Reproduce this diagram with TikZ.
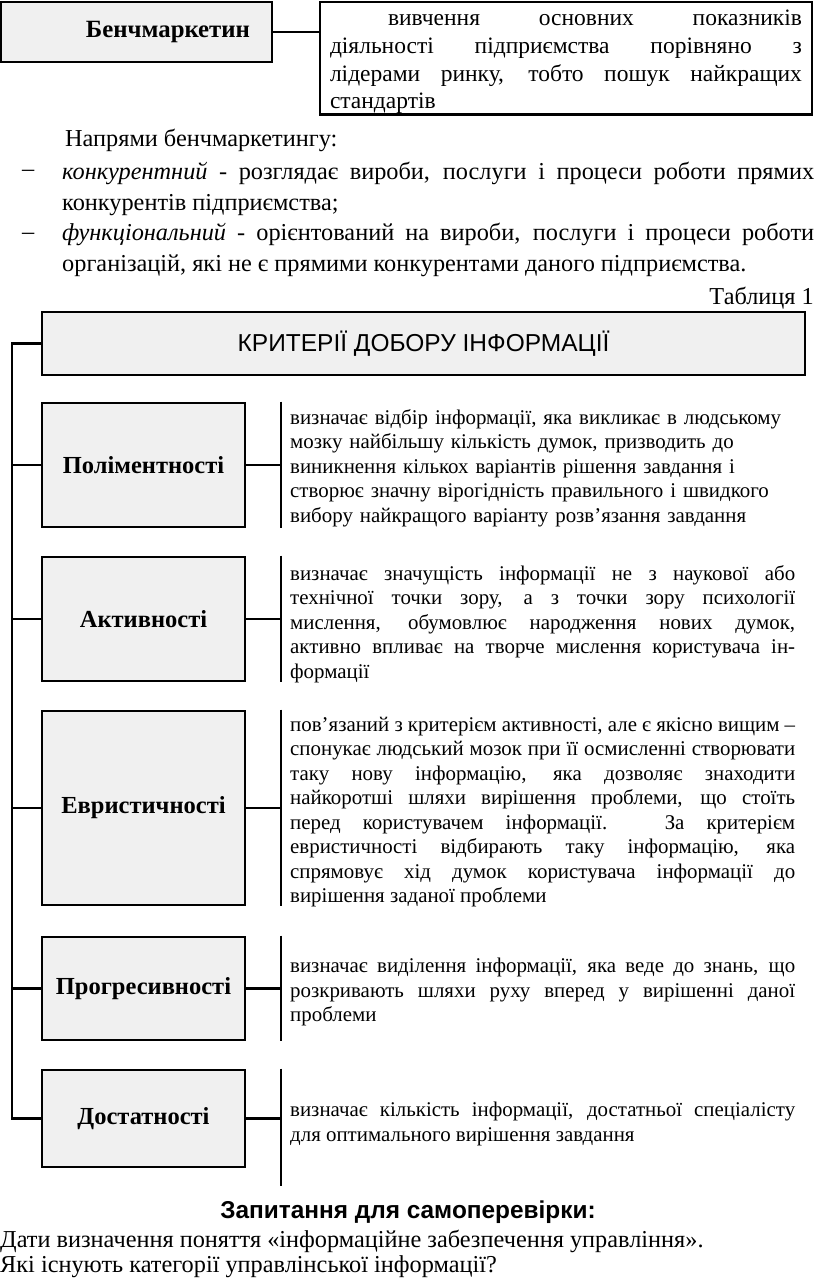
\documentclass[tikz,border=0pt]{standalone}
\usepackage{fontspec}
\setmainfont{Liberation Serif}
\setsansfont{Liberation Sans}
\usetikzlibrary{calc}
\definecolor{boxgray}{HTML}{F0F0F0}

\begin{document}
\begin{tikzpicture}[x=1pt,y=-1pt]
  \tikzset{crit/.style={draw=black,line width=2.8pt,fill=boxgray,minimum width=203pt,font=\fontsize{24.5}{28}\selectfont\bfseries}}
  \tikzset{desc/.style={anchor=west,inner xsep=9pt,inner ysep=0pt,text width=505pt,align=justify,font=\fontsize{20.9}{24.5}\selectfont}}
  \tikzset{link/.style={line width=2.8pt}}
  \tikzset{bar/.style={line width=2.8pt}}
  \tikzset{txt/.style={inner sep=0pt,font=\fontsize{24.3}{31}\selectfont}}
  \useasboundingbox (0,0) rectangle (816,1283);

  \def\bx{143.5}
  \def\dx{281}
  \def\busx{12}

  % Benchmarking
  \node[draw,line width=2.8pt,fill=boxgray,minimum height=60pt,inner xsep=22pt,text width=227pt,align=right,font=\fontsize{24.8}{28}\selectfont\bfseries] (bench) at (136.5,32) {Бенчмаркетин};
  \node[inner xsep=10pt,inner ysep=0pt,text width=472pt,align=justify,font=\fontsize{23.5}{27.7}\selectfont] (deftxt) at (566,62) {\hspace*{58pt}вивчення основних показників\linebreak діяльності підприємства порівняно з\linebreak лідерами ринку, тобто пошук найкращих\linebreak стандартів};
  \draw[line width=2.8pt] (320,2) rectangle (812,114.5);
  \draw[link] (bench.east) -- (bench.east -| deftxt.west);

  \node[txt,anchor=west] (napr) at (65,140) {Напрями бенчмаркетингу:};
  \node[txt,anchor=west] (dash1) at (22,173) {–};
  \node[txt,anchor=west,text width=752pt,align=justify] (konk) at (62,189) {\textit{конкурентний} - розглядає вироби, послуги і процеси роботи прямих\linebreak конкурентів підприємства;};
  \node[txt,anchor=west] (dash2) at (22,236) {–};
  \node[txt,anchor=west,text width=752pt,align=justify] (funk) at (62,250) {\textit{функціональний} - орієнтований на вироби, послуги і процеси роботи\linebreak організацій, які не є прямими конкурентами даного підприємства.};
  \node[txt,anchor=east] (tabl) at (814,298) {Таблиця 1};

  % Criteria
  \node[draw,line width=2.8pt,fill=boxgray,minimum width=763pt,minimum height=63pt,font=\sffamily\fontsize{24.5}{28}\selectfont] (head) at (423.5,343.5) {КРИТЕРІЇ ДОБОРУ ІНФОРМАЦІЇ};

  \node[crit,minimum height=124pt] (pol) at (\bx,465) {Поліментності};
  \node[crit,minimum height=124pt] (akt) at (\bx,619) {Активності};
  \node[crit,minimum height=194pt] (evr) at (\bx,808) {Евристичності};
  \node[crit,minimum height=103pt] (prog) at (\bx,988.5) {Прогресивності};
  \node[crit,minimum height=97pt] (dost) at (\bx,1118.5) {Достатності};

  \node[desc,align=left] (pol-txt) at (\dx,468) {визначає відбір інформації, яка викликає в людському\\ мозку найбільшу кількість думок, призводить до\\ виникнення кількох варіантів рішення завдання і\\ створює значну вірогідність правильного і швидкого\\ вибору найкращого варіанту розв’язання завдання};
  \node[desc] (akt-txt) at (\dx,624) {визначає значущість інформації не з наукової або\linebreak технічної точки зору, а з точки зору психології\linebreak мислення, обумовлює народження нових думок,\linebreak активно впливає на творче мислення користувача ін-\linebreak формації};
  \node[desc] (evr-txt) at (\dx,812) {пов’язаний з критерієм активності, але є якісно вищим –\linebreak спонукає людський мозок при її осмисленні створювати\linebreak таку нову інформацію, яка дозволяє знаходити\linebreak найкоротші шляхи вирішення проблеми, що стоїть\linebreak перед користувачем інформації. За критерієм\linebreak евристичності відбирають таку інформацію, яка\linebreak спрямовує хід думок користувача інформації до\linebreak вирішення заданої проблеми};
  \node[desc] (prog-txt) at (\dx,992) {визначає виділення інформації, яка веде до знань, що\linebreak розкривають шляхи руху вперед у вирішенні даної\linebreak проблеми};
  \node[desc] (dost-txt) at (\dx,1124) {визначає кількість інформації, достатньої спеціалісту\linebreak для оптимального вирішення завдання};

  % Bus and links
  \coordinate (bus) at (\busx,343.5);
  \draw[link] (head.west) -- (bus) |- (dost.west);
  \foreach \n in {pol,akt,evr,prog}
    \draw[link] (\n.west -| bus) -- (\n.west);
  \foreach \n in {pol,akt,evr,prog,dost}
    \draw[link] (\n.east) -- (\n.east -| \n-txt.west);
  \foreach \n in {pol,akt,evr,prog}
    \draw[bar] (\n.north -| \n-txt.west) -- (\n.south -| \n-txt.west);
  \draw[bar] (dost.north -| dost-txt.west) -- ($(dost.south -| dost-txt.west)+(0,18)$);

  % Questions
  \node[font=\sffamily\bfseries\fontsize{24.4}{28}\selectfont] (quest) at (408,1212) {Запитання для самоперевірки:};
  \node[txt,anchor=west] (q1) at (0,1241) {Дати визначення поняття «інформаційне забезпечення управління».};
  \node[txt,anchor=west] (q2) at (0,1267) {Які існують категорії управлінської інформації?};
\end{tikzpicture}
\end{document}
